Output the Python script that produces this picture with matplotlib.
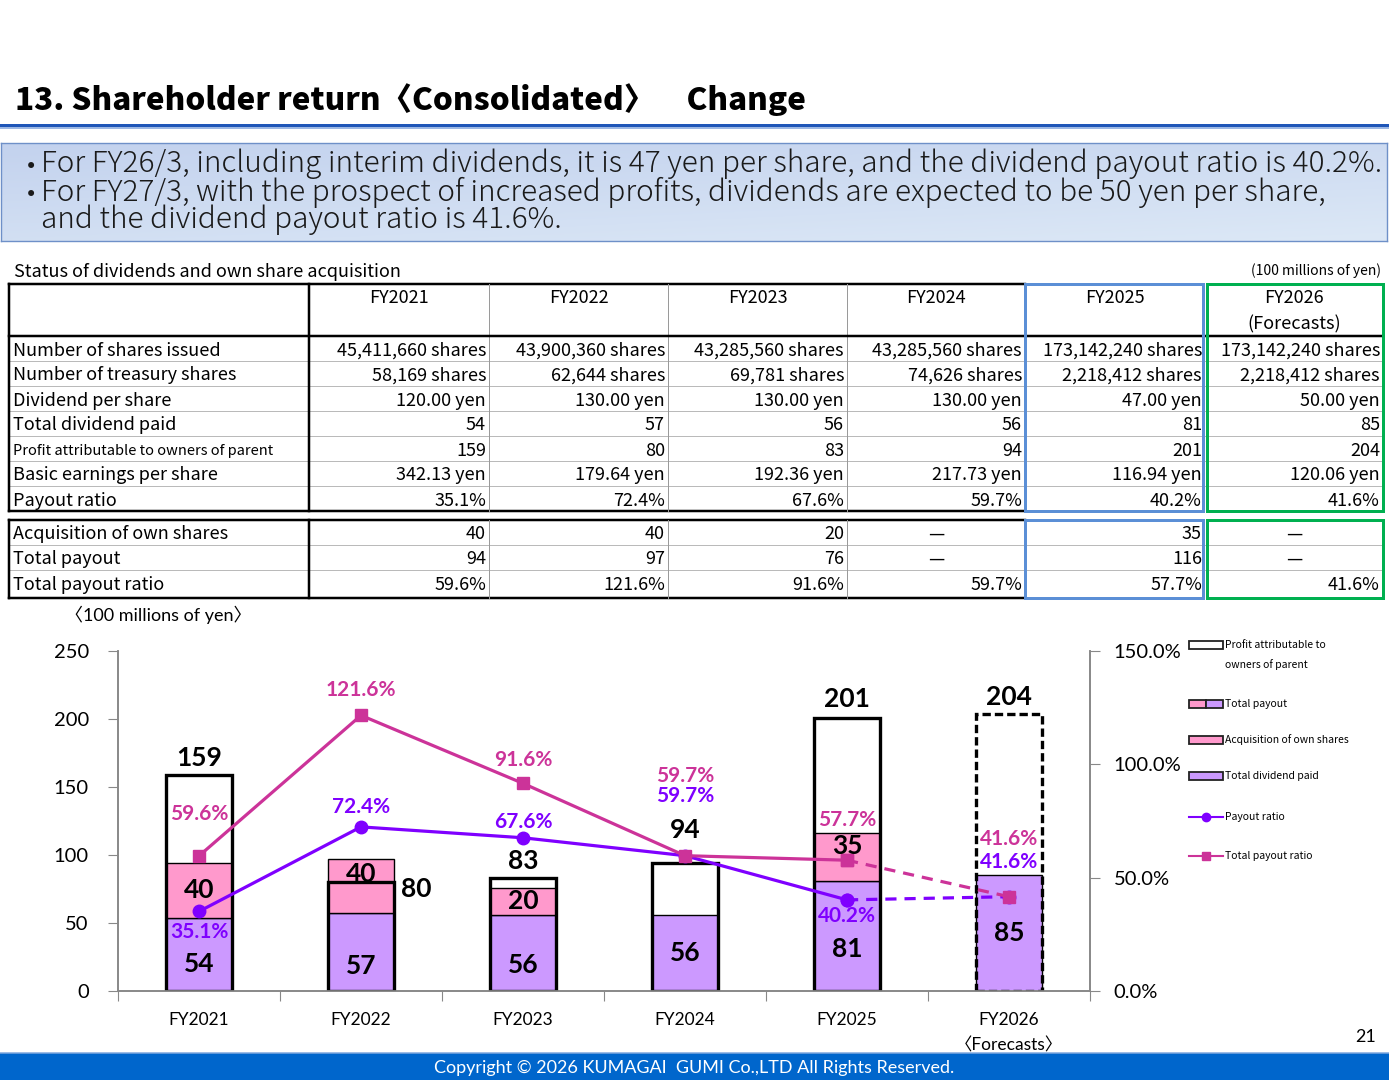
import numpy as np
import matplotlib
matplotlib.use('Agg')
from matplotlib import pyplot as plt
from matplotlib.lines import Line2D
from matplotlib.patches import Rectangle

W, H = 1389, 1080

# ---- data ----
years = ['FY2021', 'FY2022', 'FY2023', 'FY2024', 'FY2025', 'FY2026']
x_labels = ['FY2021', 'FY2022', 'FY2023', 'FY2024', 'FY2025', 'FY2026\n〈Forecasts〉']
shares_issued = ['45,411,660', '43,900,360', '43,285,560', '43,285,560', '173,142,240', '173,142,240']
treasury_shares = ['58,169', '62,644', '69,781', '74,626', '2,218,412', '2,218,412']
dividend_per_share = [120.00, 130.00, 130.00, 130.00, 47.00, 50.00]
dividend_paid = [54, 57, 56, 56, 81, 85]
profit = [159, 80, 83, 94, 201, 204]
eps = [342.13, 179.64, 192.36, 217.73, 116.94, 120.06]
payout_ratio = [35.1, 72.4, 67.6, 59.7, 40.2, 41.6]
acquisition = [40, 40, 20, None, 35, None]
total_payout = [94, 97, 76, None, 116, None]
total_payout_ratio = [59.6, 121.6, 91.6, 59.7, 57.7, 41.6]

bullets = ['For FY26/3, including interim dividends, it is 47 yen per share, and the dividend payout ratio is 40.2%.',
           'For FY27/3, with the prospect of increased profits, dividends are expected to be 50 yen per share,',
           'and the dividend payout ratio is 41.6%.']
bullet_marks = [True, True, False]

C_DIV = '#CC99FF'
C_ACQ = '#FF99CC'
C_PAY = '#7F00FF'
C_TOT = '#CC3399'

JP = 'Noto Sans CJK JP'
CH = ['Lato', 'Noto Sans CJK JP']

fig = plt.figure(figsize=(W / 100, H / 100), dpi=100)
renderer = fig.canvas.get_renderer()


def px(x, y):
    return x / W, 1 - y / H


def hline(x1, x2, y, lw=1, color='black', ls='-'):
    fig.add_artist(Line2D([x1 / W, x2 / W], [1 - y / H, 1 - y / H], transform=fig.transFigure,
                          lw=lw * 0.72, color=color, ls=ls, solid_capstyle='projecting'))


def vline(x, y1, y2, lw=1, color='black', ls='-'):
    fig.add_artist(Line2D([x / W, x / W], [1 - y1 / H, 1 - y2 / H], transform=fig.transFigure,
                          lw=lw * 0.72, color=color, ls=ls, solid_capstyle='projecting'))


def box(x1, y1, x2, y2, lw=1, color='black'):
    hline(x1, x2, y1, lw, color)
    hline(x1, x2, y2, lw, color)
    vline(x1, y1, y2, lw, color)
    vline(x2, y1, y2, lw, color)


def fit(t, width_px):
    # scale the font so that the text is as wide as in the slide
    w = t.get_window_extent(renderer).width
    t.set_fontsize(t.get_fontsize() * width_px / w)


# ---- title ----
t = fig.text(*px(15, 100), '13. Shareholder return〈Consolidated〉　Change', ha='left', va='center',
             fontsize=30, fontweight='black', family=['Liberation Sans Narrow', JP])
fit(t, 788)
hline(0, W, 124.5, lw=3, color='#1F56B8')
hline(0, W, 127.5, lw=2, color='#9DB8E4')

# ---- bullet box ----
bax = fig.add_axes([1 / W, 1 - 241 / H, 1386 / W, 98 / H])
g = np.linspace(0, 1, 200)
grad = np.add.outer(np.linspace(0, 0.6, 50), g * 0.4)
bax.imshow(grad, cmap=matplotlib.colors.LinearSegmentedColormap.from_list('b', ['#C3D2EE', '#DCE8F6']),
           aspect='auto', extent=[0, 1, 0, 1])
bax.set_xticks([])
bax.set_yticks([])
for s in bax.spines.values():
    s.set_color('#6E90C8')
    s.set_linewidth(1)
body_size = 18
for i, line in enumerate(bullets):
    yy = 164 + i * 28
    t = fig.text(*px(41, yy), line, ha='left', va='center', fontsize=body_size, family=JP,
                 fontweight='light', color='#1a1a1a')
    if i == 0:
        fit(t, 1339)
        body_size = t.get_fontsize()
    if bullet_marks[i]:
        fig.text(*px(31, yy + 1), '•', ha='center', va='center', fontsize=body_size * 0.8, family=JP,
                 color='#1a1a1a')

# ---- table ----
fig.text(*px(14, 272), 'Status of dividends and own share acquisition', ha='left', va='center', fontsize=13, family=JP)
fig.text(*px(1381, 271), '(100 millions of yen)', ha='right', va='center', fontsize=10, family=JP)

col_edges = [9, 309, 489, 668, 847, 1025, 1205, 1383]
row1_top, head_bot = 284, 336
row_h = 25
FS = 13
rows1 = [
    ('Number of shares issued', [s + ' shares' for s in shares_issued], FS),
    ('Number of treasury shares', [s + ' shares' for s in treasury_shares], FS),
    ('Dividend per share', ['%.2f yen' % v for v in dividend_per_share], FS),
    ('Total dividend paid', [str(v) for v in dividend_paid], FS),
    ('Profit attributable to owners of parent', [str(v) for v in profit], 10.5),
    ('Basic earnings per share', ['%.2f yen' % v for v in eps], FS),
    ('Payout ratio', ['%.1f%%' % v for v in payout_ratio], FS),
]
rows2 = [
    ('Acquisition of own shares', [str(v) if v is not None else '—' for v in acquisition], FS),
    ('Total payout', [str(v) if v is not None else '—' for v in total_payout], FS),
    ('Total payout ratio', ['%.1f%%' % v for v in total_payout_ratio], FS),
]

for j, yr in enumerate(years):
    cx = (col_edges[j + 1] + col_edges[j + 2]) / 2
    fig.text(*px(cx, 298), yr, ha='center', va='center', fontsize=FS, family=JP)
fig.text(*px((col_edges[6] + col_edges[7]) / 2, 324), '(Forecasts)', ha='center', va='center', fontsize=FS,
         family=JP)


def draw_rows(rows, top):
    for i, (label, vals, fs) in enumerate(rows):
        cy = top + row_h * i + row_h / 2 + 2
        fig.text(*px(13, cy), label, ha='left', va='center', fontsize=fs, family=JP)
        for j, v in enumerate(vals):
            if v == '—':
                fig.text(*px((col_edges[j + 1] + col_edges[j + 2]) / 2, cy), v, ha='center', va='center',
                         fontsize=FS, family=JP)
            else:
                fig.text(*px(col_edges[j + 2] - 3, cy), v, ha='right', va='center', fontsize=FS, family=JP)
        if i > 0:
            hline(9, 1383, top + row_h * i, lw=1, color='#777777', ls=(0, (1, 1)))


draw_rows(rows1, head_bot)
row2_top = 520
draw_rows(rows2, row2_top)
b1 = head_bot + row_h * len(rows1)
b2 = row2_top + row_h * len(rows2) + 3

# block outlines
for top, bot in [(row1_top, b1), (row2_top, b2)]:
    hline(9, 1025, top, lw=2.5)
    hline(9, 1025, bot, lw=2.5)
    vline(9, top, bot, lw=2.5)
    vline(309, top, bot, lw=2.5)
    for xe in col_edges[2:5]:
        vline(xe, top, bot, lw=1, color='#9a9a9a')
hline(9, 1383, head_bot, lw=2.5)
for top, bot in [(row1_top, b1), (row2_top, b2)]:
    box(1025, top, 1203, bot, lw=3, color='#5B8FD6')
    box(1207, top, 1383, bot, lw=3, color='#00B050')

# ---- chart ----
ax = fig.add_axes([118 / W, 1 - 991 / H, 972 / W, 340 / H])
ax2 = ax.twinx()
x = np.arange(len(years))
bw = 0.41
acq_chart = np.array([v if v is not None else 0 for v in acquisition])

ax.bar(x, profit, bw, color='white', edgecolor='none', zorder=1)
ax.bar(x, dividend_paid, bw, color=C_DIV, edgecolor='black', lw=1, zorder=2)
has_acq = acq_chart > 0
ax.bar(x[has_acq], acq_chart[has_acq], bw, bottom=np.array(dividend_paid)[has_acq], color=C_ACQ,
       edgecolor='black', lw=1, zorder=2)
for i in x:
    ax.bar(i, profit[i], bw, fill=False, edgecolor='black', lw=2.4, zorder=3,
           ls=(0, (2.5, 1.2)) if i == 5 else '-')

ax.set_xlim(-0.5, 5.5)
ax.set_ylim(0, 250)
ax2.set_ylim(0, 150)
ax.set_yticks(np.arange(0, 251, 50))
ax2.set_yticks(np.arange(0, 151, 50))
ax2.set_yticklabels(['%.1f%%' % v for v in np.arange(0, 151, 50)])
ax.set_xticks(np.arange(-0.5, 6, 1))
ax.set_xticklabels([])
ax.set_xticks(x, minor=True)
ax.set_xticklabels(x_labels, minor=True, family=CH, fontsize=12.5, linespacing=1.75, va='top')
ax.tick_params(axis='x', which='minor', length=0, pad=15)
ax.tick_params(axis='x', which='major', length=7, color='#888888', direction='out')
ax.tick_params(axis='y', length=7, color='#888888', labelsize=14.5, pad=14)
ax2.tick_params(axis='y', length=7, color='#888888', labelsize=14.5, pad=10)
for a in (ax, ax2):
    a.spines['top'].set_visible(False)
    for s in ('left', 'right', 'bottom'):
        a.spines[s].set_color('#888888')
        a.spines[s].set_linewidth(1.2)
    for lab in a.get_yticklabels():
        lab.set_family(CH)
ax.patch.set_visible(False)

lw = 2.3
ax2.plot(x[:5], payout_ratio[:5], color=C_PAY, lw=lw, marker='o', ms=9, zorder=3)
ax2.plot(x[4:], payout_ratio[4:], color=C_PAY, lw=lw, ls=(0, (3.5, 2.5)), marker='o', ms=9, zorder=3)
ax2.plot(x[:5], total_payout_ratio[:5], color=C_TOT, lw=lw, marker='s', ms=9, zorder=4)
ax2.plot(x[4:], total_payout_ratio[4:], color=C_TOT, lw=lw, ls=(0, (3.5, 2.5)), marker='s', ms=9, zorder=4)

# ratio labels (offsets in pixels from the markers)
tot_off = [42, 25, 23, 80, 40, 58]
pay_off = [-21, 20, 16, 60, -16, 35]
for i in x:
    ax2.annotate('%.1f%%' % total_payout_ratio[i], (i, total_payout_ratio[i]), xytext=(0, tot_off[i] * 0.72),
                 textcoords='offset points', ha='center', va='center', color=C_TOT, fontsize=15,
                 fontweight='bold', family=CH, zorder=6)
    ax2.annotate('%.1f%%' % payout_ratio[i], (i, payout_ratio[i]), xytext=(0, pay_off[i] * 0.72),
                 textcoords='offset points', ha='center', va='center', color=C_PAY, fontsize=15,
                 fontweight='bold', family=CH, zorder=6)

# bar labels (offsets in pixels)
div_off = [-10, -14, -12, 0, -13, 0]
acq_off = [0, 12, 0, 0, 11, 0]
prof_off = [17, 0, 17, 33, 19, 17]
for i in x:
    ax2.annotate(str(dividend_paid[i]), (i, dividend_paid[i] / 2), xycoords=ax.transData,
                 xytext=(0, div_off[i] * 0.72), textcoords='offset points', ha='center', va='center',
                 fontsize=19, fontweight='bold', family=CH, zorder=7)
    if has_acq[i]:
        ax2.annotate(str(acq_chart[i]), (i, dividend_paid[i] + acq_chart[i] / 2), xycoords=ax.transData,
                     xytext=(0, acq_off[i] * 0.72), textcoords='offset points', ha='center', va='center',
                     fontsize=19, fontweight='bold', family=CH, zorder=7)
    if profit[i] < dividend_paid[i] + acq_chart[i]:
        ax2.annotate(str(profit[i]), (i + bw / 2, profit[i]), xycoords=ax.transData,
                     xytext=(16, -5), textcoords='offset points', ha='center', va='center',
                     fontsize=19, fontweight='bold', family=CH, zorder=7)
    else:
        ax2.annotate(str(profit[i]), (i, profit[i]), xycoords=ax.transData,
                     xytext=(0, prof_off[i] * 0.72), textcoords='offset points', ha='center', va='center',
                     fontsize=19, fontweight='bold', family=CH, zorder=7)

fig.text(*px(65, 615), '〈100 millions of yen〉', ha='left', va='center', fontsize=13, family=CH)

# ---- legend ----
lx, lw_box, lh = 1189, 34, 8
leg = [(645, 'Profit attributable to\nowners of parent', ['white']),
       (704, 'Total payout', [C_ACQ, C_DIV]),
       (740, 'Acquisition of own shares', [C_ACQ]),
       (776, 'Total dividend paid', [C_DIV])]
for yy, txt, cols in leg:
    n = len(cols)
    for k, c in enumerate(cols):
        fig.add_artist(Rectangle(px(lx + k * lw_box / n, yy + lh / 2), lw_box / n / W, lh / H,
                                 transform=fig.transFigure, facecolor=c, edgecolor='#222222', lw=1.3))
    fig.text(*px(lx + lw_box + 2, yy + (10 if '\n' in txt else 0)), txt, ha='left', va='center',
             fontsize=7.5, family=JP, linespacing=2.0)
for yy, txt, col, mk in [(817, 'Payout ratio', C_PAY, 'o'), (856, 'Total payout ratio', C_TOT, 's')]:
    fig.add_artist(Line2D([lx / W, (lx + lw_box) / W], [1 - yy / H] * 2, transform=fig.transFigure,
                          color=col, lw=1.5))
    fig.add_artist(Line2D([(lx + lw_box / 2) / W], [1 - yy / H], transform=fig.transFigure,
                          color=col, marker=mk, ms=6, lw=0))
    fig.text(*px(lx + lw_box + 2, yy), txt, ha='left', va='center', fontsize=7.5, family=JP)

# ---- footer ----
fig.add_artist(Rectangle((0, 0), 1, 27 / H, transform=fig.transFigure, facecolor='#0066CC', edgecolor='none'))
hline(0, W, 1052.5, lw=1.5, color='#7FA8DE')
fig.text(*px(694, 1068), 'Copyright © 2026 KUMAGAI  GUMI Co.,LTD All Rights Reserved.', ha='center',
         va='center', fontsize=13, color='white', family=CH)
fig.text(*px(1366, 1037), '21', ha='center', va='center', fontsize=13, family=CH)

fig.savefig('out.png', dpi=100)
